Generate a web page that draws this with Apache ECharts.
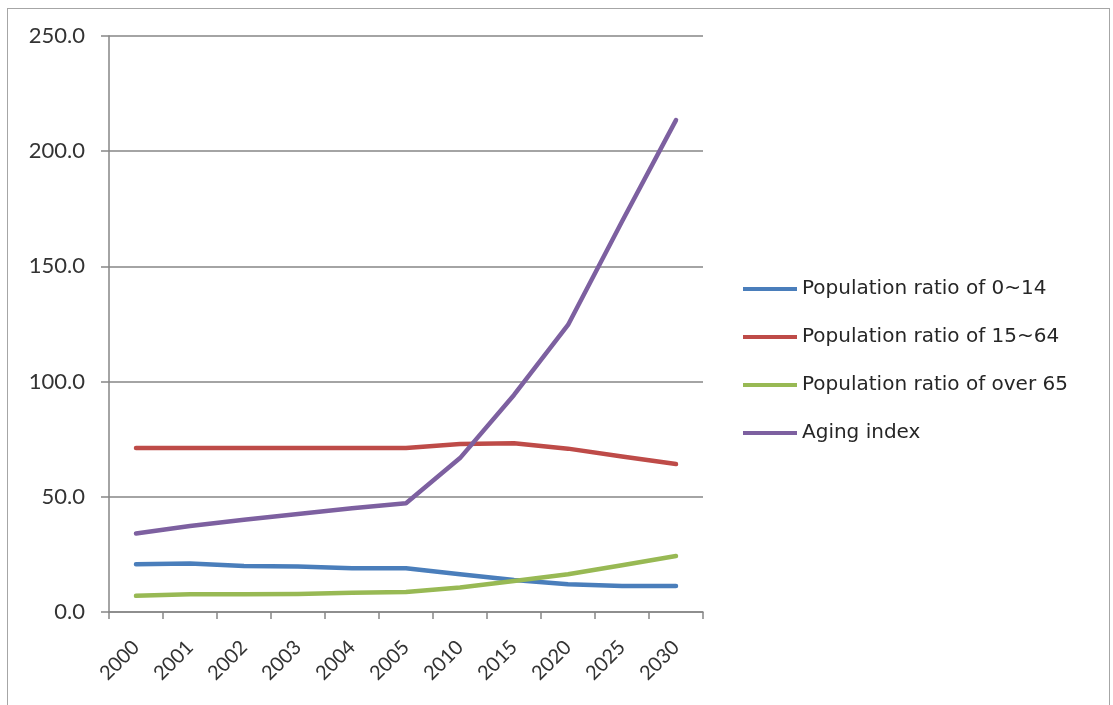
<!DOCTYPE html>
<html>
<head>
<meta charset="utf-8">
<script src="https://cdn.jsdelivr.net/npm/echarts@6/dist/echarts.min.js"></script>
<style>
html,body{margin:0;padding:0;background:#fff;}
#frame{position:absolute;left:7px;top:8px;width:1103px;height:710px;border:1.5px solid #a6a6a6;box-sizing:border-box;}
#chart{position:absolute;left:0;top:0;width:1113px;height:705px;}
</style>
</head>
<body>
<div id="frame"></div>
<div id="chart"></div>
<script>
const categories = ['2000','2001','2002','2003','2004','2005','2010','2015','2020','2025','2030'];
const ratio0to14 = [20.7, 21.0, 20.0, 19.7, 19.0, 19.0, 16.4, 13.9, 12.0, 11.3, 11.3];
const ratio15to64 = [71.2, 71.2, 71.2, 71.2, 71.2, 71.2, 72.9, 73.2, 70.9, 67.5, 64.2];
const ratioOver65 = [7.0, 7.7, 7.7, 7.8, 8.4, 8.7, 10.6, 13.5, 16.4, 20.3, 24.3];
const agingIndex = [34.1, 37.3, 40.0, 42.5, 45.0, 47.2, 66.8, 94.2, 124.6, 169.5, 213.5];
const seriesNames = ['Population ratio of 0~14','Population ratio of 15~64','Population ratio of over 65','Aging index'];
const colors = ['#4A7EBB','#BE4B48','#98B954','#7D60A0'];

const chart = echarts.init(document.getElementById('chart'), null, {renderer:'canvas'});
const font = 'Lato, "Open Sans", sans-serif';
const data = [ratio0to14, ratio15to64, ratioOver65, agingIndex];
chart.setOption({
  animation:false,
  color: colors,
  grid:{left:109, right:410, top:36, bottom:93, containLabel:false},
  legend:{
    orient:'vertical', left:743, top:279, padding:0, icon:'rect', itemWidth:54, itemHeight:4, itemGap:28,
    textStyle:{fontFamily:'"DejaVu Sans", sans-serif', fontSize:20, color:'#262626'},
    data: seriesNames
  },
  xAxis:{
    type:'category', data:categories, boundaryGap:true,
    axisLine:{lineStyle:{color:'#868686', width:1.5}},
    axisTick:{show:true, length:7, alignWithLabel:false, lineStyle:{color:'#868686', width:1.5}},
    axisLabel:{rotate:45, fontFamily:font, fontSize:20, color:'#333', margin:32, interval:0}
  },
  yAxis:{
    type:'value', min:0, max:250, interval:50,
    axisLine:{show:true, lineStyle:{color:'#868686', width:1.5}},
    axisTick:{show:true, length:8, lineStyle:{color:'#868686', width:1.5}},
    splitLine:{lineStyle:{color:'#868686', width:1.5}},
    axisLabel:{formatter:v=>v.toFixed(1), fontFamily:font, fontSize:22, color:'#333', margin:24}
  },
  series: seriesNames.map((n,i)=>({
    name:n, type:'line', data:data[i], symbol:'none', smooth:false,
    lineStyle:{width:4.5, color:colors[i], cap:'round', join:'round'}
  }))
});
</script>
</body>
</html>
